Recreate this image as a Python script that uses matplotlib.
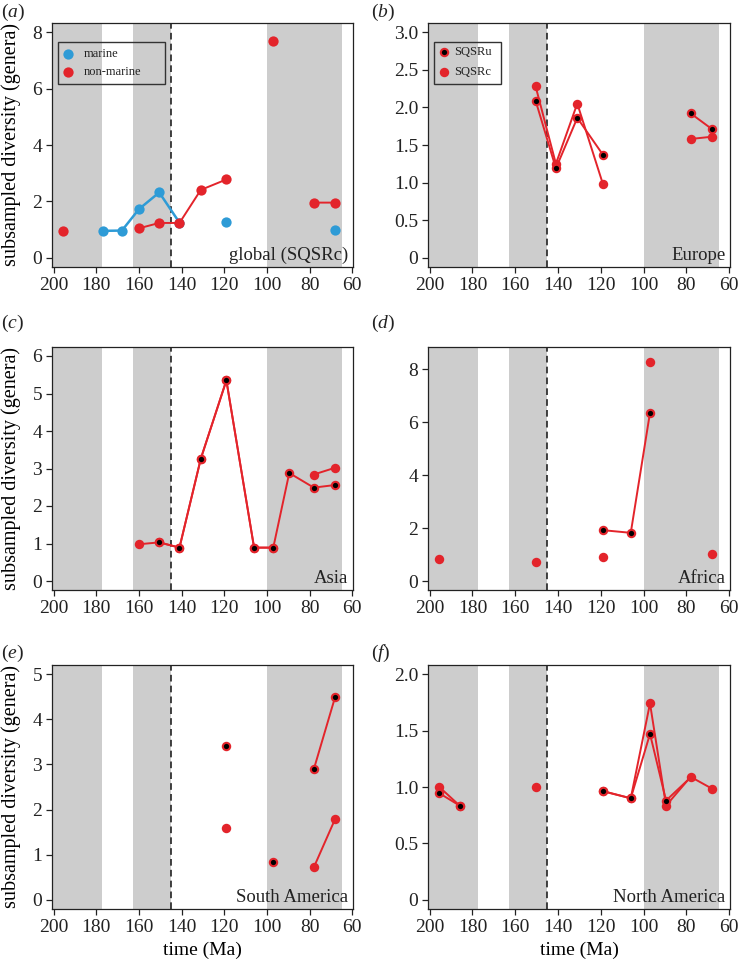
import numpy as np
import matplotlib
matplotlib.use('Agg')
import matplotlib.pyplot as plt
from matplotlib.patches import Rectangle
from matplotlib.ticker import FuncFormatter

plt.rcParams['font.family'] = ['Liberation Serif', 'DejaVu Serif']
plt.rcParams['mathtext.fontset'] = 'custom'
plt.rcParams['mathtext.rm'] = 'Liberation Serif'
plt.rcParams['mathtext.it'] = 'Liberation Serif:italic'

nan = np.nan
# stage midpoints (Ma)
time = [195.5, 186, 177, 168, 160, 150.5, 141, 131, 119, 106, 97, 89.5, 78, 68]

# (a) global, SQSRc
marine = [nan, nan, 0.96, 0.97, 1.73, 2.32, 1.25, nan, 1.29, nan, nan, nan, nan, 0.98]
nonmarine = [0.96, nan, nan, nan, 1.05, 1.24, 1.24, 2.41, 2.78, nan, 7.68, nan, 1.96, 1.96]

# regional series: SQSRu / SQSRc
europe_u = [nan, nan, nan, nan, nan, 2.09, 1.19, 1.86, 1.37, nan, nan, nan, 1.92, 1.71]
europe_c = [nan, nan, nan, nan, nan, 2.28, 1.25, 2.05, 0.98, nan, nan, nan, 1.58, 1.61]
asia_u = [nan, nan, nan, nan, nan, 1.03, 0.89, 3.26, 5.35, 0.89, 0.89, 2.88, 2.49, 2.56]
asia_c = [nan, nan, nan, nan, 0.98, 1.03, 0.89, 3.26, 5.35, 0.89, 0.89, nan, 2.84, 3.02]
africa_u = [nan, nan, nan, nan, nan, nan, nan, nan, 1.92, 1.82, 6.36, nan, nan, nan]
africa_c = [0.83, nan, nan, nan, nan, 0.70, nan, nan, 0.92, nan, 8.29, nan, nan, 1.02]
samer_u = [nan, nan, nan, nan, nan, nan, nan, nan, 3.41, nan, 0.83, nan, 2.89, 4.49]
samer_c = [nan, nan, nan, nan, nan, nan, nan, nan, 1.59, nan, nan, nan, 0.72, 1.79]
namer_u = [0.945, 0.835, nan, nan, nan, nan, nan, nan, 0.963, 0.90, 1.47, 0.88, 1.085, nan]
namer_c = [1.00, 0.835, nan, nan, nan, 1.00, nan, nan, 0.963, 0.90, 1.74, 0.835, 1.09, 0.985]

bands = [(205, 177.5), (163, 145), (100, 64.7)]
jk_boundary = 145

RED = '#E3242B'
BLUE = '#2E9BD6'
GREY = '#CDCDCD'
INK = '#222222'

fig = plt.figure(figsize=(7.38, 9.64), dpi=100)
W, H = 738, 964


def make_ax(l, t, r, b):
    return fig.add_axes([l / W, 1 - b / H, (r - l) / W, (b - t) / H])


def fmt_dec(v, pos):
    return '0' if abs(v) < 1e-9 else '%.1f' % v


def setup(ax, ymax, ticks, decimal=False):
    for x0, x1 in bands:
        ax.axvspan(x0, x1, color=GREY, lw=0, zorder=0)
    ax.axvline(jk_boundary, color=INK, ls=(0, (4, 2.5)), lw=1.2, zorder=1)
    ax.set_xlim(200.8, 59.6)
    ext = 0.04 * ymax
    ax.set_ylim(-ext, ymax + ext)
    ax.set_xticks([200, 180, 160, 140, 120, 100, 80, 60])
    ax.set_yticks(ticks)
    if decimal:
        ax.yaxis.set_major_formatter(FuncFormatter(fmt_dec))
    ax.tick_params(direction='out', length=4, width=0.9, labelsize=14,
                   colors=INK, pad=3)
    for s in ax.spines.values():
        s.set_linewidth(0.9)
        s.set_color(INK)


def plot_uc(ax, u, c, hide_u=()):
    ax.plot(time, c, '-o', color=RED, lw=1.4, ms=6.8, mew=0, zorder=3)
    mask = [not np.isnan(v) and i not in hide_u for i, v in enumerate(u)]
    ax.plot(time, u, '-', color=RED, lw=1.4, zorder=3)
    ax.plot(time, u, 'o', color=RED, ms=5.3, mfc='black', mec=RED, mew=1.5,
            markevery=mask, ls='none', zorder=4)


def legend_box(ax, x1, entries, text_x):
    ax.add_patch(Rectangle((0.02, 0.75), x1 - 0.02, 0.172, transform=ax.transAxes,
                           fill=False, ec='#333333', lw=1.0, zorder=6, clip_on=False))
    for y, label, style in entries:
        ax.plot([0.052], [y], 'o', transform=ax.transAxes, zorder=7, **style)
        ax.text(text_x, y, label, transform=ax.transAxes, fontsize=9,
                va='center', ha='left', color=INK, zorder=7)


def region(ax, name):
    ax.text(0.985, 0.012, name, transform=ax.transAxes, ha='right', va='bottom',
            fontsize=13.5, color=INK, zorder=5)


def ylab(ax):
    ax.set_ylabel('subsampled diversity (genera)', fontsize=14.5)
    ax.yaxis.set_label_coords(-0.104, 0.5)


def panel_label(x, y, letter):
    fig.text(x / W, 1 - y / H, r'($\it{%s}$)' % letter, fontsize=14,
             ha='left', va='center', color=INK)


cols = [(52, 353), (428, 730)]
rows = [(23, 267), (347, 590), (665, 909)]

# (a)
ax = make_ax(cols[0][0], rows[0][0], cols[0][1], rows[0][1])
setup(ax, 8, [0, 2, 4, 6, 8])
ax.plot(time, marine, '-o', color=BLUE, lw=1.8, ms=7.4, mew=0, zorder=3)
ax.plot(time, nonmarine, '-o', color=RED, lw=1.4, ms=7.4, mew=0, zorder=3)
legend_box(ax, 0.375, [(0.874, 'marine', dict(color=BLUE, ms=7.4, mew=0)),
                       (0.800, 'non-marine', dict(color=RED, ms=7.4, mew=0))], 0.105)
region(ax, 'global (SQSRc)')
ylab(ax)
panel_label(1, 12, 'a')

# (b)
ax = make_ax(cols[1][0], rows[0][0], cols[1][1], rows[0][1])
setup(ax, 3, [0, 0.5, 1, 1.5, 2, 2.5, 3], decimal=True)
plot_uc(ax, europe_u, europe_c)
legend_box(ax, 0.242, [(0.880, 'SQSRu', dict(ms=5.3, mfc='black', mec=RED, mew=1.5)),
                       (0.800, 'SQSRc', dict(color=RED, ms=6.8, mew=0))], 0.088)
region(ax, 'Europe')
panel_label(371, 12, 'b')

# (c)
ax = make_ax(cols[0][0], rows[1][0], cols[0][1], rows[1][1])
setup(ax, 6, [0, 1, 2, 3, 4, 5, 6])
plot_uc(ax, asia_u, asia_c)
region(ax, 'Asia')
ylab(ax)
panel_label(1, 323, 'c')

# (d)
ax = make_ax(cols[1][0], rows[1][0], cols[1][1], rows[1][1])
setup(ax, 8.5, [0, 2, 4, 6, 8])
plot_uc(ax, africa_u, africa_c)
region(ax, 'Africa')
panel_label(371, 323, 'd')

# (e)
ax = make_ax(cols[0][0], rows[2][0], cols[0][1], rows[2][1])
setup(ax, 5, [0, 1, 2, 3, 4, 5])
plot_uc(ax, samer_u, samer_c)
region(ax, 'South America')
ylab(ax)
ax.set_xlabel('time (Ma)', fontsize=14, labelpad=4)
panel_label(1, 653, 'e')

# (f)
ax = make_ax(cols[1][0], rows[2][0], cols[1][1], rows[2][1])
setup(ax, 2, [0, 0.5, 1, 1.5, 2], decimal=True)
plot_uc(ax, namer_u, namer_c, hide_u=(12,))
region(ax, 'North America')
ax.set_xlabel('time (Ma)', fontsize=14, labelpad=4)
panel_label(371, 653, 'f')

fig.savefig('out.png', dpi=100)
